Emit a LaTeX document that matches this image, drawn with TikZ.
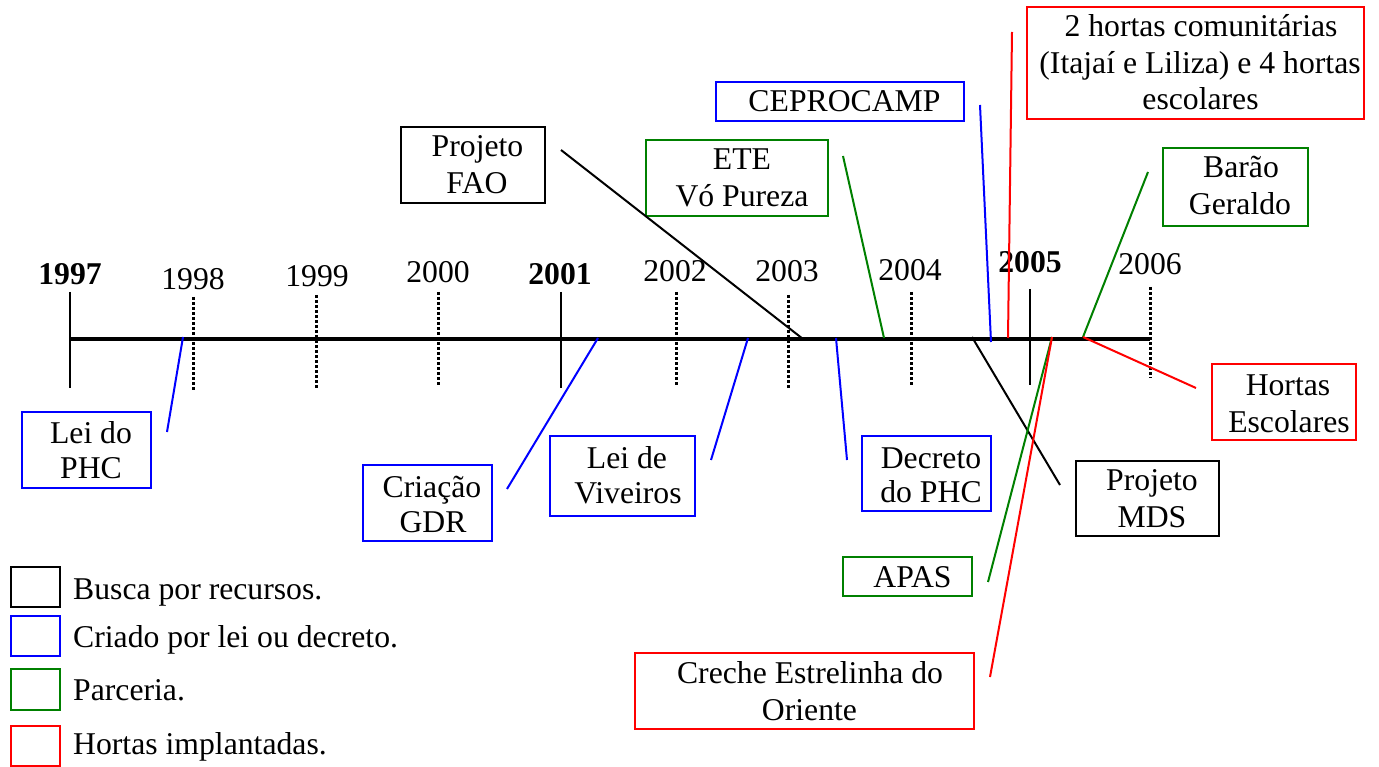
\documentclass[tikz,border=0pt]{standalone}
\usepackage{fontspec}
\setmainfont{Liberation Serif}
\definecolor{cblue}{RGB}{0,0,255}
\definecolor{cgreen}{RGB}{0,128,0}
\definecolor{cred}{RGB}{255,0,0}
\begin{document}
\begin{tikzpicture}[x=1pt,y=-1pt,
  tx/.style={anchor=base,inner sep=0pt,font=\fontsize{31.7}{36.5}\selectfont},
  lgtx/.style={anchor=base west,inner sep=0pt,font=\fontsize{31.7}{36.5}\selectfont},
  yr/.style={anchor=base,inner sep=0pt,font=\fontsize{31.7}{36.5}\selectfont},
  yrb/.style={yr,font=\fontsize{31.7}{36.5}\selectfont\bfseries},
  bx/.style={draw=#1,line width=2pt,rectangle,inner sep=0pt},
  con/.style={draw=#1,line width=2pt},
  solidtick/.style={draw=black,line width=2pt},
  dottick/.style={draw=black,line width=3pt,dash pattern=on 3pt off 2pt},
  axis/.style={draw=black,line width=4pt}]
\useasboundingbox (0,0) rectangle (1379,767);
\fill[white] (0,0) rectangle (1379,767);

% timeline
\coordinate (t0) at (70,339);
\coordinate (t1) at (1150,339);
\draw[axis] (t0) -- (t1);

% ticks
\coordinate (k97a) at (70,292);   \coordinate (k97b) at (70,388);
\coordinate (k98a) at (193,297);  \coordinate (k98b) at (193,390);
\coordinate (k99a) at (316,295);  \coordinate (k99b) at (316,388);
\coordinate (k00a) at (438,292);  \coordinate (k00b) at (438,386);
\coordinate (k01a) at (561,292);  \coordinate (k01b) at (561,388);
\coordinate (k02a) at (676,292);  \coordinate (k02b) at (676,385);
\coordinate (k03a) at (788,295);  \coordinate (k03b) at (788,388);
\coordinate (k04a) at (911,292);  \coordinate (k04b) at (911,385);
\coordinate (k05a) at (1030,289); \coordinate (k05b) at (1030,385);
\coordinate (k06a) at (1150,287); \coordinate (k06b) at (1150,378);
\draw[solidtick] (k97a) -- (k97b);
\draw[solidtick] (k01a) -- (k01b);
\draw[solidtick] (k05a) -- (k05b);
\draw[dottick] (k98a) -- (k98b);
\draw[dottick] (k99a) -- (k99b);
\draw[dottick] (k00a) -- (k00b);
\draw[dottick] (k02a) -- (k02b);
\draw[dottick] (k03a) -- (k03b);
\draw[dottick] (k04a) -- (k04b);
\draw[dottick] (k06a) -- (k06b);

% year labels
\node[yrb] (y1997) at (70,285) {1997};
\node[yr]  (y1998) at (193,290) {1998};
\node[yr]  (y1999) at (317,287) {1999};
\node[yr]  (y2000) at (438,283) {2000};
\node[yrb] (y2001) at (560,285) {2001};
\node[yr]  (y2002) at (675,282) {2002};
\node[yr]  (y2003) at (787,282) {2003};
\node[yr]  (y2004) at (910,281) {2004};
\node[yrb] (y2005) at (1030,273) {2005};
\node[yr]  (y2006) at (1150,275) {2006};

% boxes
\node[bx=cblue, minimum width=129, minimum height=76] (bLei) at (86.5,450) {};
\node[tx] (bLei1) at (91,443) {Lei do};
\node[tx] (bLei2) at (91,478) {PHC};

\node[bx=cblue, minimum width=129, minimum height=76] (bGDR) at (427.5,503) {};
\node[tx] (bGDR1) at (432,497) {Criação};
\node[tx] (bGDR2) at (433,532) {GDR};

\node[bx=cblue, minimum width=145, minimum height=80] (bViv) at (622.5,476) {};
\node[tx] (bViv1) at (627,468) {Lei de};
\node[tx] (bViv2) at (628,503) {Viveiros};

\node[bx=cblue, minimum width=129, minimum height=75] (bDec) at (926.5,473.5) {};
\node[tx] (bDec1) at (931,468) {Decreto};
\node[tx] (bDec2) at (931,502) {do PHC};

\node[bx=black, minimum width=144, minimum height=76] (bFAO) at (473,165) {};
\node[tx] (bFAO1) at (477.5,157) {Projeto};
\node[tx] (bFAO2) at (477,194) {FAO};

\node[bx=cgreen, minimum width=182, minimum height=76] (bETE) at (737,178) {};
\node[tx] (bETE1) at (742,170) {ETE};
\node[tx] (bETE2) at (742,207) {Vó Pureza};

\node[bx=cblue, minimum width=248, minimum height=39] (bCEP) at (840,101.5) {};
\node[tx] (bCEP1) at (844.5,112) {CEPROCAMP};

\node[bx=cred, minimum width=337, minimum height=112] (bHC) at (1195.5,63) {};
\node[tx] (bHC1) at (1201,37) {2 hortas comunitárias};
\node[tx] (bHC2) at (1200,74) {(Itajaí e Liliza) e 4 hortas};
\node[tx] (bHC3) at (1200.5,110) {escolares};

\node[bx=cgreen, minimum width=145, minimum height=78] (bBG) at (1235.5,187) {};
\node[tx] (bBG1) at (1241,178) {Barão};
\node[tx] (bBG2) at (1240,215) {Geraldo};

\node[bx=cred, minimum width=144, minimum height=76] (bHE) at (1284,402) {};
\node[tx] (bHE1) at (1288,395) {Hortas};
\node[tx] (bHE2) at (1289,432) {Escolares};

\node[bx=black, minimum width=143, minimum height=75] (bMDS) at (1147.5,498.5) {};
\node[tx] (bMDS1) at (1152,490) {Projeto};
\node[tx] (bMDS2) at (1152,527) {MDS};

\node[bx=cgreen, minimum width=129, minimum height=39] (bAPAS) at (907.5,576.5) {};
\node[tx] (bAPAS1) at (912.5,587) {APAS};

\node[bx=cred, minimum width=339, minimum height=76] (bCre) at (804.5,691) {};
\node[tx] (bCre1) at (810,683) {Creche Estrelinha do};
\node[tx] (bCre2) at (809.5,720) {Oriente};

% connectors
\coordinate (cLeiA) at (183,337);  \coordinate (cLeiB) at (167,432);
\coordinate (cGDRA) at (598,338);  \coordinate (cGDRB) at (507,489);
\coordinate (cVivA) at (748,338);  \coordinate (cVivB) at (711,460);
\coordinate (cDecA) at (836,338);  \coordinate (cDecB) at (847,460);
\coordinate (cFAOA) at (561,150);  \coordinate (cFAOB) at (803,339);
\coordinate (cETEA) at (843,156);  \coordinate (cETEB) at (884,338);
\coordinate (cCEPA) at (980,105);  \coordinate (cCEPB) at (991,342);
\coordinate (cHCA) at (1012,32);   \coordinate (cHCB) at (1008,338);
\coordinate (cMDSA) at (972,337);  \coordinate (cMDSB) at (1060,485);
\coordinate (cAPA) at (1052,337);  \coordinate (cAPB) at (988,582);
\coordinate (cCreA) at (1052,337); \coordinate (cCreB) at (990,677);
\coordinate (cBGA) at (1148,172);  \coordinate (cBGB) at (1083,337);
\coordinate (cHEA) at (1083,337);  \coordinate (cHEB) at (1196,388);
\draw[con=cblue] (cLeiA) -- (cLeiB);
\draw[con=cblue] (cGDRA) -- (cGDRB);
\draw[con=cblue] (cVivA) -- (cVivB);
\draw[con=cblue] (cDecA) -- (cDecB);
\draw[con=black] (cFAOA) -- (cFAOB);
\draw[con=cgreen] (cETEA) -- (cETEB);
\draw[con=cblue] (cCEPA) -- (cCEPB);
\draw[con=cred] (cHCA) -- (cHCB);
\draw[con=black] (cMDSA) -- (cMDSB);
\draw[con=cgreen] (cAPA) -- (cAPB);
\draw[con=cred] (cCreA) -- (cCreB);
\draw[con=cgreen] (cBGA) -- (cBGB);
\draw[con=cred] (cHEA) -- (cHEB);

% legend
\node[bx=black, minimum width=49, minimum height=40] (lgK) at (35.5,587) {};
\node[bx=cblue, minimum width=49, minimum height=40] (lgB) at (35.5,636) {};
\node[bx=cgreen, minimum width=49, minimum height=41] (lgG) at (35.5,689.5) {};
\node[bx=cred, minimum width=49, minimum height=40] (lgR) at (35.5,745.5) {};
\node[lgtx] (lgKt) at (73,599) {Busca por recursos.};
\node[lgtx] (lgBt) at (73,647) {Criado por lei ou decreto.};
\node[lgtx] (lgGt) at (73,700) {Parceria.};
\node[lgtx] (lgRt) at (73,754) {Hortas implantadas.};
\end{tikzpicture}
\end{document}
